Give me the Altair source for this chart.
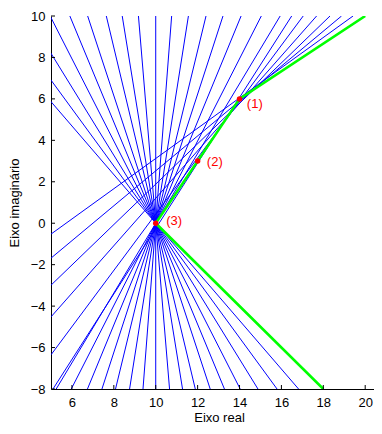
import altair as alt
import pandas as pd

# ---- data ----
x_ticks = [6, 8, 10, 12, 14, 16, 18, 20]
y_ticks = [-8, -6, -4, -2, 0, 2, 4, 6, 8, 10]
x_domain = [5, 20.42]
y_domain = [-8, 10]

# fan of lines through vertex (3): tangent of angle from vertical
fan_a_vertex_x = 10.0
fan_a_vertex_y = 0.0
fan_a_tan = [0.594, 0.504, 0.4075, 0.321, 0.24, 0.156, 0.076, 0.0,
             -0.0825, -0.16, -0.236, -0.325, -0.41, -0.504, -0.61, -0.724, -0.8525]

# fan of lines near vertex (1): y where each meets x=5, x where each meets y=10
fan_b_left_y = [-8.15, -6.35, -4.52, -2.99, -1.685, -0.525]
fan_b_top_x = [16.49, 17.04, 17.68, 18.32, 18.87, 19.42]

# green boundary
boundary_x = [18, 10, 14, 20]
boundary_y = [-8, 0, 6, 10]

# red points and their labels
point_x = [14, 12, 10]
point_y = [6, 3, 0]
point_label = ["(1)", "(2)", "(3)"]
label_x = [14.35, 12.44, 10.5]
label_y = [5.75, 2.96, 0.1]

FONT = "Liberation Sans"

# ---- tables ----
rows = []
lid = 0
for t in fan_a_tan:
    for k, yy in enumerate(y_domain):
        rows.append({"line": lid, "ord": k,
                     "x": fan_a_vertex_x + t * (yy - fan_a_vertex_y), "y": yy})
    lid += 1
for ly, tx in zip(fan_b_left_y, fan_b_top_x):
    rows.append({"line": lid, "ord": 0, "x": x_domain[0], "y": ly})
    rows.append({"line": lid, "ord": 1, "x": tx, "y": y_domain[1]})
    lid += 1
lines_df = pd.DataFrame(rows)

green_df = pd.DataFrame({"x": boundary_x, "y": boundary_y, "ord": list(range(len(boundary_x)))})
pts_df = pd.DataFrame({"x": point_x, "y": point_y})
lab_df = pd.DataFrame({"x": label_x, "y": label_y, "label": point_label})
xt_df = pd.DataFrame({"x": x_ticks})
yt_df = pd.DataFrame({"y": y_ticks})

W, H = 323, 373

x_axis = alt.Axis(values=x_ticks, ticks=False, grid=False, labelPadding=7,
                  labelFont=FONT, labelFontSize=13, labelColor="black",
                  domainColor="black", domainWidth=1,
                  title="Eixo real", titleFont=FONT, titleFontSize=13,
                  titleFontWeight="normal", titleColor="black",
                  titleBaseline="alphabetic", titleY=32, titleX=168)
y_axis = alt.Axis(values=y_ticks, ticks=False, grid=False, labelPadding=6,
                  labelFont=FONT, labelFontSize=13, labelColor="black",
                  domainColor="black", domainWidth=1,
                  title="Eixo imaginário", titleFont=FONT, titleFontSize=13,
                  titleFontWeight="normal", titleColor="black",
                  titleBaseline="alphabetic", titleAngle=270, titleAlign="center",
                  titleX=-32.5, titleY=H / 2)

xs = alt.Scale(domain=x_domain, nice=False, zero=False)
ys = alt.Scale(domain=y_domain, nice=False, zero=False)
X = alt.X("x:Q", scale=xs, axis=x_axis)
Y = alt.Y("y:Q", scale=ys, axis=y_axis)

green = alt.Chart(green_df).mark_line(color="#00ff00", strokeWidth=2.6, clip=True).encode(
    x=X, y=Y, order="ord:Q")
blue = alt.Chart(lines_df).mark_line(color="#0000ff", strokeWidth=1, clip=True).encode(
    x=X, y=Y, detail="line:N", order="ord:Q")
pts = alt.Chart(pts_df).mark_point(filled=True, color="#ff0000", size=30, opacity=1).encode(x=X, y=Y)
labs = alt.Chart(lab_df).mark_text(align="left", baseline="middle", color="#ff0000",
                                   font=FONT, fontSize=13).encode(x=X, y=Y, text="label:N")
xticks = alt.Chart(xt_df).mark_rule(color="black", strokeWidth=1).encode(
    x=X, y=alt.value(H), y2=alt.value(H - 4))
yticks = alt.Chart(yt_df).mark_rule(color="black", strokeWidth=1).encode(
    y=Y, x=alt.value(0), x2=alt.value(4))

chart = alt.layer(blue, green, pts, labs, xticks, yticks).properties(
    width=W, height=H,
    padding={"left": 43, "top": 8, "right": 0, "bottom": 37},
    autosize=alt.AutoSizeParams(type="none"),
    background="white",
).configure_view(stroke=None)

chart.save("out.html", embed_options={"renderer": "svg", "actions": False})
